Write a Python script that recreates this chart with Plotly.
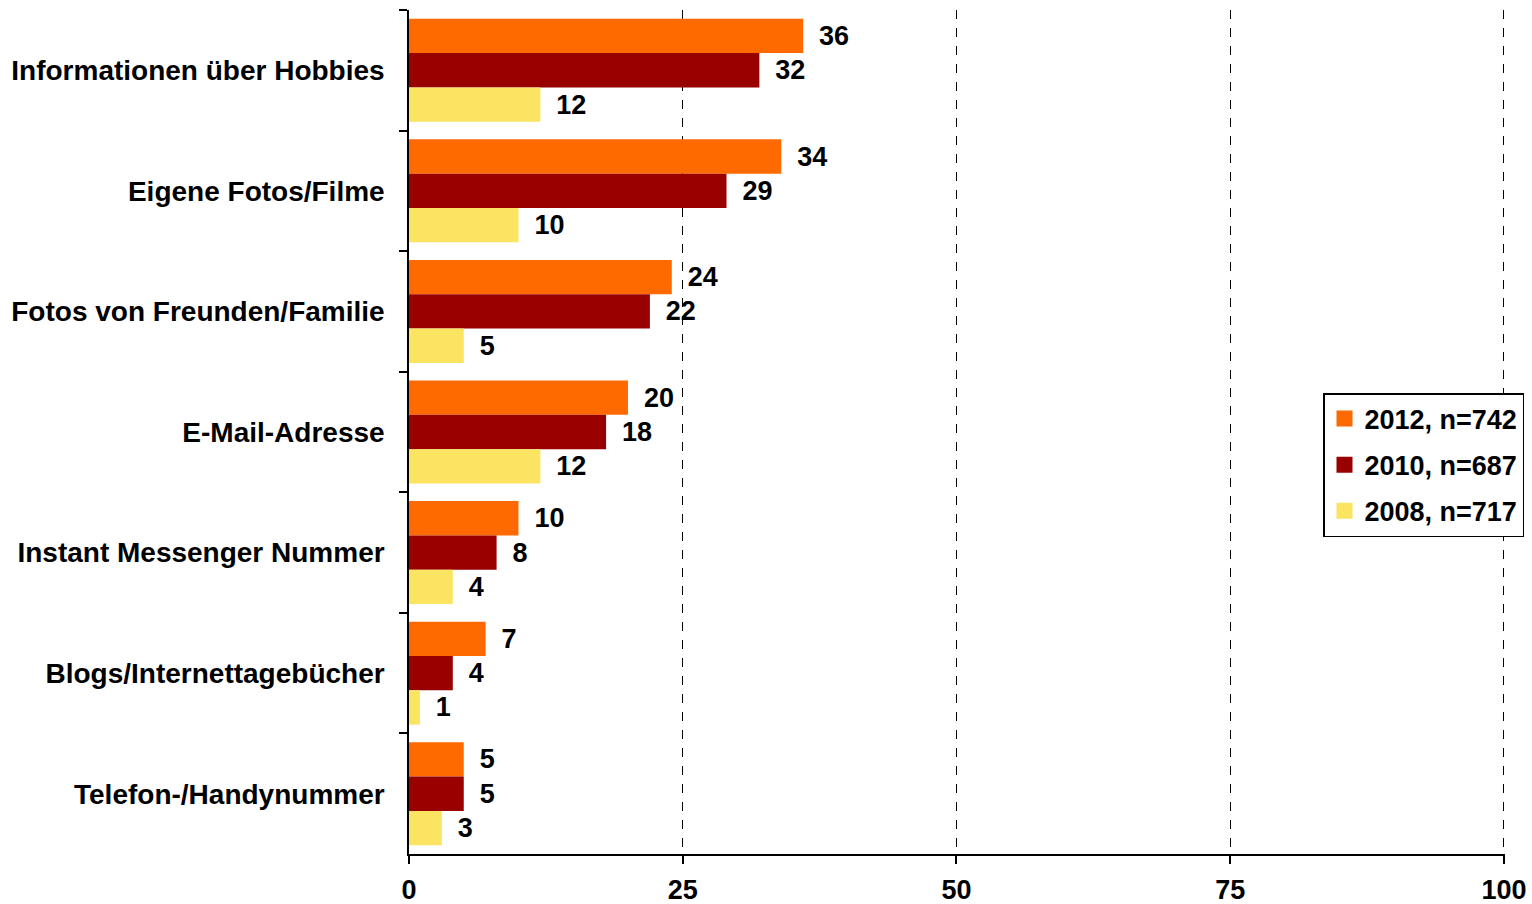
import plotly.graph_objects as go

categories = [
    "Informationen über Hobbies",
    "Eigene Fotos/Filme",
    "Fotos von Freunden/Familie",
    "E-Mail-Adresse",
    "Instant Messenger Nummer",
    "Blogs/Internettagebücher",
    "Telefon-/Handynummer",
]
values_2012 = [36, 34, 24, 20, 10, 7, 5]
values_2010 = [32, 29, 22, 18, 8, 4, 5]
values_2008 = [12, 10, 5, 12, 4, 1, 3]
series_names = ["2012, n=742", "2010, n=687", "2008, n=717"]
x_ticks = [0, 25, 50, 75, 100]

colors = ["#FF6A00", "#990000", "#FAE461"]
FONT = "Liberation Sans, Arial, sans-serif"

fig = go.Figure()
for name, vals, col in zip(series_names, [values_2012, values_2010, values_2008], colors):
    fig.add_trace(go.Bar(
        y=categories, x=vals, name=name, orientation="h",
        marker=dict(color=col, line=dict(width=0)),
        text=vals, texttemplate=" \u2009%{x}", textposition="outside",
        constraintext="none", cliponaxis=False,
        textfont=dict(family=FONT, size=27, color="black", weight="bold"),
        legendgroup=name, showlegend=False,
    ))
# legend entries with larger square swatches
for name, col in zip(series_names, colors):
    fig.add_trace(go.Scatter(
        x=[None], y=[None], mode="markers", name=name,
        marker=dict(symbol="square", size=16, color=col, line=dict(width=0)),
        legendgroup=name, showlegend=True, hoverinfo="skip",
    ))

fig.update_layout(
    width=1532, height=904,
    margin=dict(l=409, r=27, t=10, b=50, autoexpand=False),
    paper_bgcolor="white", plot_bgcolor="white",
    barmode="group", bargap=0.146, bargroupgap=0,
    font=dict(family=FONT, size=27, color="black", weight="bold"),
    showlegend=True,
    legend=dict(
        x=(1323 - 409) / 1096, y=(854 - 393) / 844, xanchor="left", yanchor="top",
        bgcolor="white", bordercolor="black", borderwidth=1.5,
        font=dict(family=FONT, size=27, color="black", weight="bold"),
        traceorder="grouped", tracegroupgap=8,
        itemwidth=30,
    ),
)
fig.update_xaxes(
    range=[0, 100.1], tickvals=x_ticks, ticktext=[str(t) for t in x_ticks],
    showline=True, linecolor="black", linewidth=1.5,
    ticks="outside", ticklen=8, tickcolor="black", tickwidth=1.5,
    showgrid=True, gridcolor="black", griddash="dash", gridwidth=1,
    zeroline=False, ticklabelstandoff=3, automargin=False,
    tickfont=dict(family=FONT, size=27, color="black", weight="bold"),
)
fig.update_yaxes(
    autorange="reversed", type="category",
    showline=True, linecolor="black", linewidth=1.5,
    ticks="outside", ticklen=8, tickcolor="black", tickwidth=1.5,
    tickson="boundaries", showgrid=False, automargin=False,
    ticklabelstandoff=17,
    tickfont=dict(family=FONT, size=28, color="black", weight="bold"),
)

fig.write_html("out.html", config={"displayModeBar": False},
               post_script="document.body.style.margin='0px';")
